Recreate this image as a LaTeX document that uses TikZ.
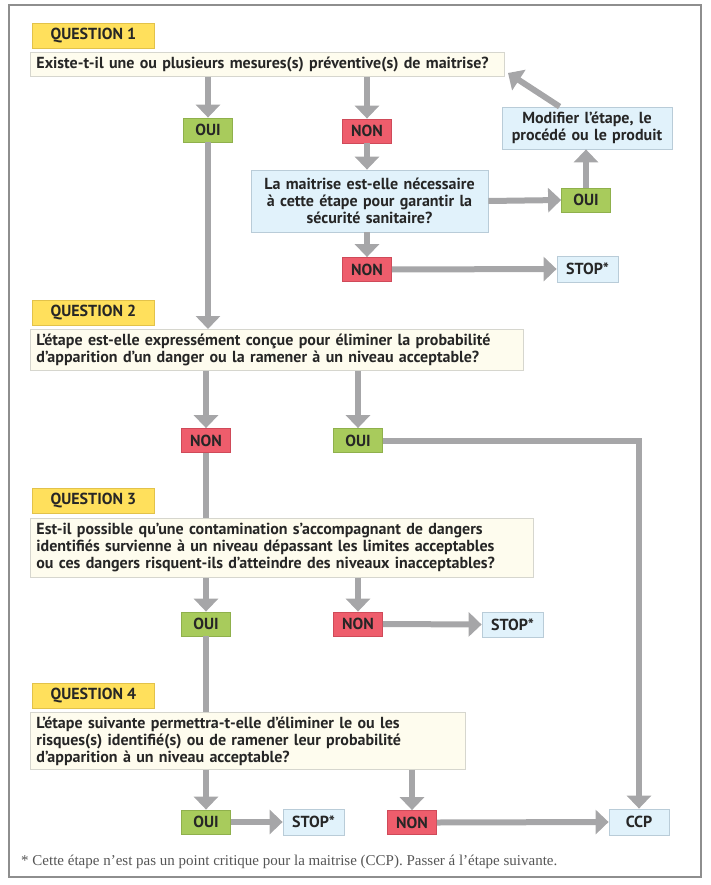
\documentclass[tikz,border=0pt]{standalone}
\usepackage{fontspec}
\setmainfont{PT Sans}
\newfontfamily\footfont{Liberation Serif}
\usetikzlibrary{arrows.meta,calc}
\definecolor{txt}{HTML}{262626}
\definecolor{labyellow}{HTML}{FFE05C}
\definecolor{labborder}{HTML}{E2C24A}
\definecolor{cream}{HTML}{FEFCEE}
\definecolor{creamborder}{HTML}{D6D6CE}
\definecolor{okgreen}{HTML}{A8CB5C}
\definecolor{okborder}{HTML}{8FB04C}
\definecolor{nored}{HTML}{EE5D6C}
\definecolor{noborder}{HTML}{CF4A59}
\definecolor{infoblue}{HTML}{E1F2FB}
\definecolor{infoborder}{HTML}{B9CCD8}
\definecolor{arrowgray}{HTML}{A6A6A8}
\definecolor{framegray}{HTML}{8E8E8E}
\definecolor{foottxt}{HTML}{555555}
\tikzset{
  base/.style={draw, line width=0.8pt, inner sep=0pt, text=txt,
    font=\fontsize{16}{17}\selectfont\bfseries},
  lab/.style={base, fill=labyellow, draw=labborder, anchor=north west,
    minimum width=122pt, minimum height=25pt},
  qbox/.style={base, fill=cream, draw=creamborder, anchor=north west,
    align=left, inner xsep=6pt},
  yesbox/.style={base, fill=okgreen, draw=okborder, minimum width=49pt, minimum height=24pt},
  nobox/.style={base, fill=nored, draw=noborder, minimum width=49pt, minimum height=24pt},
  infobox/.style={base, fill=infoblue, draw=infoborder},
  flow/.style={draw=arrowgray, line width=6pt, -{Triangle[width=24pt,length=13pt]}},
  plainflow/.style={draw=arrowgray, line width=6pt}
}
\begin{document}
\begin{tikzpicture}[x=1pt,y=-1pt]
\useasboundingbox (0,0) rectangle (710,885);
\draw[framegray, line width=1.6pt] (9,5) rectangle (701,877);

% Question 1
\node[lab] (q1lab) at (32,23) {QUESTION 1};
\node[qbox, text width=462pt, minimum height=24pt] (q1) at (30,52)
  {Existe-t-il une ou plusieurs mesures(s) préventive(s) de maitrise?};
\node[yesbox] (oui1) at (208,130) {OUI};
\node[nobox] (non1) at (367,131) {NON};
\node[infobox, text width=237pt, align=center, minimum height=62pt] (mid) at (369.5,201)
  {La maitrise est-elle nécessaire\\à cette étape pour garantir la\\sécurité sanitaire?};
\node[infobox, text width=170pt, align=center, minimum height=42pt] (mod) at (587,128)
  {Modifier l’étape, le\\procédé ou le produit};
\node[yesbox] (oui2) at (586,200) {OUI};
\node[nobox] (non2) at (367,269.5) {NON};
\node[infobox, minimum width=61pt, minimum height=26pt] (stop1) at (587.5,269) {STOP*};
\coordinate (modtip) at (508,73);

\draw[flow] (q1.south -| oui1) -- (oui1.north);
\draw[flow] (q1.south -| non1) -- (non1.north);
\draw[flow] (non1.south) -- (mid.north -| non1);
\draw[flow] (mid.east) -- (oui2.west);
\draw[flow] (oui2.north) -- (mod.south -| oui2);
\draw[flow] ($(mod.north west)+(58,0)$) -- (modtip);
\draw[flow] (mid.south -| non2) -- (non2.north);
\draw[flow] (non2.east) -- (stop1.west);

% Question 2
\node[lab] (q2lab) at (32,300) {QUESTION 2};
\node[qbox, text width=481pt, minimum height=41pt] (q2) at (30,329)
  {L’étape est-elle expressément conçue pour éliminer la probabilité\\d’apparition d’un danger ou la ramener à un niveau acceptable?};
\draw[flow] (oui1.south) -- (q2.north -| oui1);
\node[nobox] (non3) at (206,440.5) {NON};
\node[yesbox] (oui3) at (358,440.5) {OUI};
\node[infobox, minimum width=60pt, minimum height=26pt] (ccp) at (639,822) {CCP};
\draw[flow] (q2.south -| non3) -- (non3.north);
\draw[flow] (q2.south -| oui3) -- (oui3.north);
\draw[flow] (oui3.east) -| (ccp.north);

% Question 3
\node[lab] (q3lab) at (32,488) {QUESTION 3};
\node[qbox, text width=491pt, minimum height=59pt] (q3) at (30,518)
  {Est-il possible qu’une contamination s’accompagnant de dangers\\identifiés survienne à un niveau dépassant les limites acceptables\\ou ces dangers risquent-ils d’atteindre des niveaux inacceptables?};
\draw[plainflow] (non3.south) -- (q3.north -| non3);
\node[yesbox] (oui4) at (206,624) {OUI};
\node[nobox] (non4) at (358,624) {NON};
\node[infobox, minimum width=61pt, minimum height=25pt] (stop2) at (512.5,624.5) {STOP*};
\draw[flow] (q3.south -| oui4) -- (oui4.north);
\draw[flow] (q3.south -| non4) -- (non4.north);
\draw[flow] (non4.east) -- (stop2.west);

% Question 4
\node[lab] (q4lab) at (32,683) {QUESTION 4};
\node[qbox, text width=423pt, minimum height=57pt] (q4) at (30,712)
  {L’étape suivante permettra-t-elle d’éliminer le ou les\\risques(s) identifié(s) ou de ramener leur probabilité\\d’apparition à un niveau acceptable?};
\draw[plainflow] (oui4.south) -- (q4.north -| oui4);
\node[yesbox] (oui5) at (206,822) {OUI};
\node[infobox, minimum width=61pt, minimum height=26pt] (stop3) at (313.5,822) {STOP*};
\node[nobox] (non5) at (412,822.5) {NON};
\draw[flow] (q4.south -| oui5) -- (oui5.north);
\draw[flow] (oui5.east) -- (stop3.west);
\draw[flow] (q4.south -| non5) -- (non5.north);
\draw[flow] (non5.east) -- (ccp.west);

\node[anchor=base west, inner sep=0pt, text=foottxt,
  font=\footfont\fontsize{15}{16}\selectfont] (foot) at (21,865)
  {* Cette étape n’est pas un point critique pour la maitrise (CCP). Passer á l’étape suivante.};
\end{tikzpicture}
\end{document}
